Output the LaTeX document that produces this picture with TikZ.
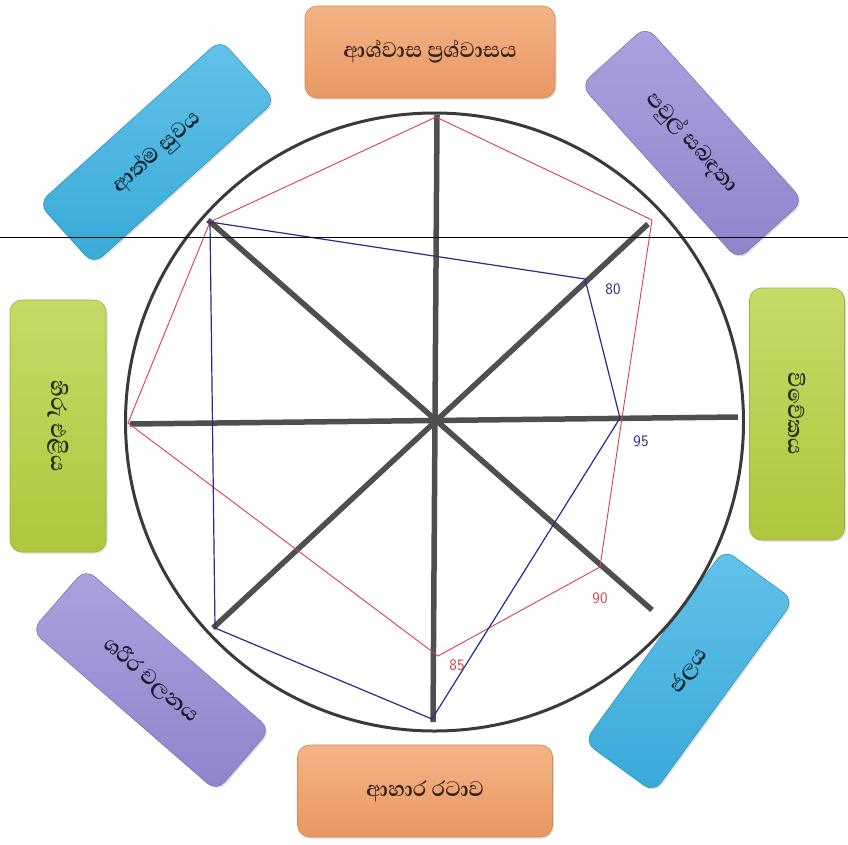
\documentclass[tikz,border=0pt]{standalone}
\usepackage{fontspec}
\newfontfamily\sinhala[Script=Sinhala]{Abhaya Libre}
\usetikzlibrary{shadows}

\definecolor{boxorange}{HTML}{F3A067}
\definecolor{boxpurple}{HTML}{978AD6}
\definecolor{boxgreen}{HTML}{B6D241}
\definecolor{boxblue}{HTML}{3BB2E3}
\definecolor{axisgray}{HTML}{4F4F4F}
\definecolor{ringgray}{HTML}{3A3A3A}
\definecolor{markred}{HTML}{D8404F}
\definecolor{markblue}{HTML}{2B2B8C}

\begin{document}
\begin{tikzpicture}[
    x=1pt, y=-1pt,
    areabox/.style={
        rounded corners=12pt,
        draw=#1!85!black,
        line width=0.6pt,
        top color=#1!80!white,
        bottom color=#1!95!black,
        minimum width=245pt,
        minimum height=86pt,
        inner sep=0pt,
        text=#1!20!black,
        font=\sinhala\bfseries\fontsize{27}{30}\selectfont,
        drop shadow={shadow xshift=1.5pt, shadow yshift=-1.5pt, opacity=0.25}
    },
    spoke/.style={line width=5.5pt, draw=axisgray},
    ring/.style={line width=3pt, draw=ringgray},
    score/.style={font=\sffamily\fontsize{16}{17}\selectfont}
]
    % Page
    \fill[white] (0,0) rectangle (848,844);
    \useasboundingbox (0,0) rectangle (848,844);

    % Area boxes
    \node[areabox=boxorange, minimum width=250pt, minimum height=92pt] (top) at (430,52) {ආශ්වාස ප්‍රශ්වාසය};
    \node[areabox=boxpurple, minimum width=235pt, minimum height=88pt, rotate=-48] (topright) at (692,143) {පවුල් සබඳතා};
    \node[areabox=boxgreen, minimum width=252pt, minimum height=95pt, rotate=-90] (right) at (797,414) {විවේකය};
    \node[areabox=boxblue, minimum width=238pt, minimum height=86pt, rotate=54] (bottomright) at (689,671) {ජලය};
    \node[areabox=boxorange, minimum width=255pt, minimum height=92pt] (bottom) at (425,791) {ආහාර රටාව};
    \node[areabox=boxpurple, minimum width=245pt, minimum height=82pt, rotate=-41] (bottomleft) at (151,680) {ශරීර චලනය};
    \node[areabox=boxgreen, minimum width=252pt, minimum height=96pt, rotate=-90] (left) at (58,426) {හිරු එළිය};
    \node[areabox=boxblue, minimum width=245pt, minimum height=82pt, rotate=42] (topleft) at (157,152) {ආත්ම සුවය};

    % Wheel
    \coordinate (c) at (435,422);
    \draw[ring] (434.5,422) circle[radius=309];

    \coordinate (aN) at (437,115);
    \coordinate (aS) at (433,722);
    \coordinate (aW) at (130,424);
    \coordinate (aE) at (738,417);
    \coordinate (aNW) at (208,220);
    \coordinate (aSE) at (652,610);
    \coordinate (aNE) at (648,224);
    \coordinate (aSW) at (213,628);

    \draw[spoke] (aN) -- (aS);
    \draw[spoke] (aW) -- (aE);
    \draw[spoke] (aNW) -- (aSE);
    \draw[spoke] (aNE) -- (aSW);

    % Red profile
    \coordinate (rN) at (436,117);
    \coordinate (rNE) at (652,220);
    \coordinate (rE) at (622,418);
    \coordinate (rSE) at (600,567);
    \coordinate (rS) at (438,656);
    \coordinate (rW) at (128,423);
    \coordinate (rNW) at (210,222);
    \draw[markred, line width=0.9pt] (rN) -- (rNE) -- (rE) -- (rSE) -- (rS) -- (rW) -- (rNW) -- cycle;

    % Blue profile
    \coordinate (bNE) at (585,279);
    \coordinate (bE) at (620,418);
    \coordinate (bS) at (432,719);
    \coordinate (bSW) at (215,628);
    \draw[markblue, line width=1.2pt] (rNW) -- (bNE) -- (bE) -- (bS) -- (bSW) -- cycle;

    % Scores
    \node[score, text=markblue] (s80) at (613,289) {80};
    \node[score, text=markblue] (s95) at (641,441) {95};
    \node[score, text=markred] (s90) at (600,598) {90};
    \node[score, text=markred] (s85) at (457,665) {85};

    % Scan line
    \coordinate (scanL) at (0,237);
    \coordinate (scanR) at (848,237);
    \draw[black, line width=0.8pt] (scanL) -- (scanR);
\end{tikzpicture}
\end{document}
